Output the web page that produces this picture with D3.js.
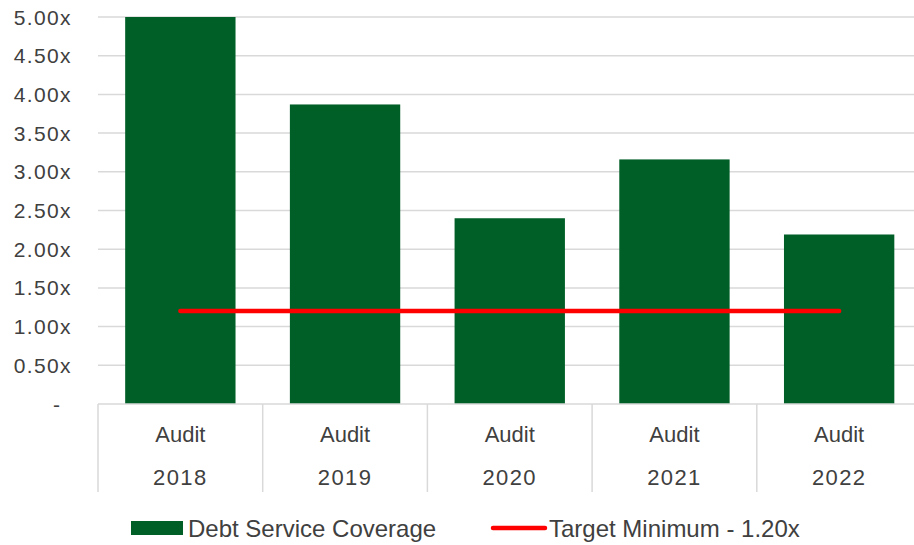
<!DOCTYPE html>
<html><head><meta charset="utf-8">
<script src="https://cdn.jsdelivr.net/npm/d3@7/dist/d3.min.js"></script>
<style>html,body{margin:0;padding:0;background:#fff;overflow:hidden}</style>
</head><body>
<svg id="c" width="914" height="545"></svg>
<script>
const categoriesTop = ["Audit","Audit","Audit","Audit","Audit"];
const years = ["2018","2019","2020","2021","2022"];
const coverage = [5.00, 3.87, 2.40, 3.16, 2.19];
const target = [1.20, 1.20, 1.20, 1.20, 1.20];
const yTicks = [0, 0.5, 1, 1.5, 2, 2.5, 3, 3.5, 4, 4.5, 5];
const seriesNames = ["Debt Service Coverage", "Target Minimum - 1.20x"];

const svg = d3.select("#c");
const plotLeft = 98, plotRight = 921.5, plotTop = 17, plotBottom = 404;
const textColor = "#404040", gridColor = "#d9d9d9";
const barColor = "#005f27", lineColor = "#ff0000";
const font = "'Liberation Sans', Arial, sans-serif";

const y = d3.scaleLinear().domain([0, 5]).range([plotBottom, plotTop]);
const x = d3.scaleBand().domain(years).range([plotLeft, plotRight]).paddingInner(0.33).paddingOuter(0.165);
const xs = d3.scaleBand().domain(years).range([plotLeft, plotRight]);

// gridlines
svg.append("g").selectAll("line").data(yTicks.filter(d => d > 0)).join("line")
  .attr("x1", plotLeft).attr("x2", plotRight).attr("y1", d => y(d)).attr("y2", d => y(d))
  .attr("stroke", gridColor).attr("stroke-width", 1.5);

// y labels
const fmt = d => d === 0 ? "-" : d3.format(".2f")(d) + "x";
svg.append("g").selectAll("text").data(yTicks).join("text")
  .attr("x", d => d === 0 ? 60 : 72).attr("y", d => y(d)).attr("dy", "0.36em")
  .attr("text-anchor", "end").attr("font-family", font).attr("font-size", 21)
  .attr("letter-spacing", d => d === 0 ? 0 : 1.4)
  .attr("fill", textColor).text(fmt);

// bars
svg.append("g").selectAll("rect").data(coverage).join("rect")
  .attr("x", (d, i) => x(years[i])).attr("width", x.bandwidth())
  .attr("y", d => y(d)).attr("height", d => y(0) - y(d))
  .attr("fill", barColor);

// x axis line and separators
svg.append("line").attr("x1", plotLeft).attr("x2", plotRight).attr("y1", plotBottom).attr("y2", plotBottom)
  .attr("stroke", gridColor).attr("stroke-width", 1.5);
const seps = years.map(d => xs(d)).concat([xs(years[years.length - 1]) + xs.bandwidth()]);
svg.append("g").selectAll("line").data(seps).join("line")
  .attr("x1", d => d).attr("x2", d => d).attr("y1", plotBottom).attr("y2", 492)
  .attr("stroke", gridColor).attr("stroke-width", 1.5);

// category labels
svg.append("g").selectAll("text").data(categoriesTop).join("text")
  .attr("x", (d, i) => xs(years[i]) + xs.bandwidth() / 2).attr("y", 442)
  .attr("text-anchor", "middle").attr("font-family", font).attr("font-size", 22)
  .attr("fill", textColor).text(d => d);
svg.append("g").selectAll("text").data(years).join("text")
  .attr("x", d => xs(d) + xs.bandwidth() / 2).attr("y", 485)
  .attr("text-anchor", "middle").attr("font-family", font).attr("font-size", 22)
  .attr("letter-spacing", 1.4)
  .attr("fill", textColor).text(d => d);

// target line
const line = d3.line().x((d, i) => x(years[i]) + x.bandwidth() / 2).y(d => y(d));
svg.append("path").datum(target).attr("d", line)
  .attr("fill", "none").attr("stroke", lineColor).attr("stroke-width", 4.5)
  .attr("stroke-linecap", "round");

// legend
const lg = svg.append("g");
lg.append("rect").attr("x", 131).attr("y", 521).attr("width", 52).attr("height", 14).attr("fill", barColor);
lg.append("text").attr("x", 188).attr("y", 537).attr("font-family", font).attr("font-size", 24)
  .attr("fill", textColor).text(seriesNames[0]);
lg.append("line").attr("x1", 493).attr("x2", 545).attr("y1", 528).attr("y2", 528)
  .attr("stroke", lineColor).attr("stroke-width", 4.5).attr("stroke-linecap", "round");
lg.append("text").attr("x", 549).attr("y", 537).attr("font-family", font).attr("font-size", 24)
  .attr("fill", textColor).text(seriesNames[1]);
</script>
</body></html>
